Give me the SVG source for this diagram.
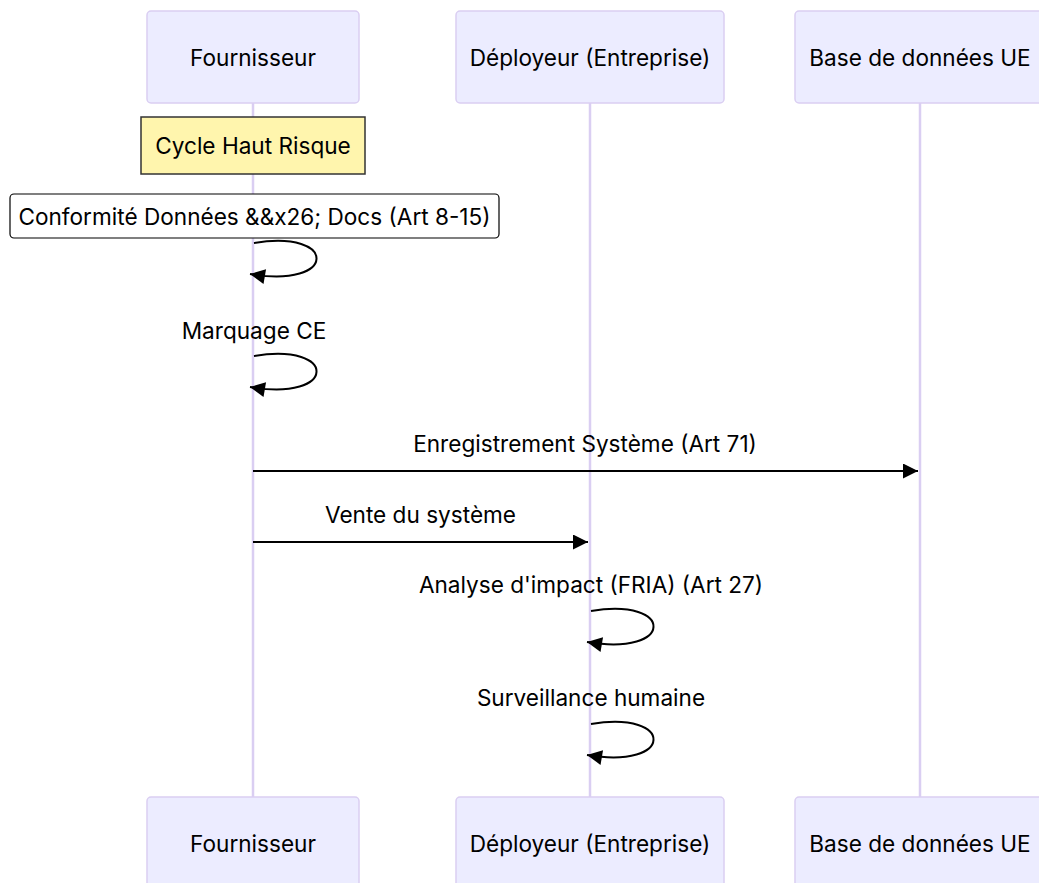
<svg xmlns="http://www.w3.org/2000/svg" width="1039" height="883" viewBox="0 0 1039 883">
<style>
text{font-family:Inter,"Noto Sans","Liberation Sans",sans-serif;font-size:22.6px;fill:#000;text-anchor:middle;dominant-baseline:central}
.actor{fill:#ececff;stroke:#dacef2;stroke-width:1.5}
.life{stroke:#dacef2;stroke-width:2.5}
.msg{fill:none;stroke:#000;stroke-width:2}
</style>
<defs>
<marker id="arrow" viewBox="0 0 10 10" refX="10" refY="5" markerUnits="userSpaceOnUse" markerWidth="18" markerHeight="15" orient="auto">
<path d="M0,0 L10,5 L0,10 z" fill="#000"/>
</marker>
</defs>
<rect width="1039" height="883" fill="#fff"/>
<g id="lifelines">
<line class="life" x1="253" y1="103" x2="253" y2="797"/>
<line class="life" x1="590" y1="103" x2="590" y2="797"/>
<line class="life" x1="920" y1="103" x2="920" y2="797"/>
</g>
<g id="actor-fournisseur-top"><rect class="actor" x="147" y="11" width="212" height="92" rx="4"/><text x="253" y="57">Fournisseur</text></g>
<g id="actor-deployeur-top"><rect class="actor" x="456" y="11" width="268" height="92" rx="4"/><text x="590" y="57">Déployeur (Entreprise)</text></g>
<g id="actor-base-top"><rect class="actor" x="795" y="11" width="250" height="92" rx="4"/><text x="920" y="57">Base de données UE</text></g>
<g id="actor-fournisseur-bottom"><rect class="actor" x="147" y="797" width="212" height="92" rx="4"/><text x="253" y="843">Fournisseur</text></g>
<g id="actor-deployeur-bottom"><rect class="actor" x="456" y="797" width="268" height="92" rx="4"/><text x="590" y="843">Déployeur (Entreprise)</text></g>
<g id="actor-base-bottom"><rect class="actor" x="795" y="797" width="250" height="92" rx="4"/><text x="920" y="843">Base de données UE</text></g>
<g id="note-cycle"><rect x="141" y="117" width="224" height="57" fill="#fff5ad" stroke="#333" stroke-width="1.5"/><text x="253" y="145.5">Cycle Haut Risque</text></g>
<g id="label-conformite"><rect x="10" y="194" width="489" height="44" rx="4" fill="#fff" stroke="#000" stroke-width="1.2"/><text x="254.5" y="216.5">Conformité Données &amp;&amp;x26; Docs (Art 8-15)</text></g>
<g id="connectors">
<path class="msg" d="M254,243 C338,229 338,289 250,274" marker-end="url(#arrow)"/>
<text x="254" y="330">Marquage CE</text>
<path class="msg" d="M254,356 C338,342 338,402 250,387" marker-end="url(#arrow)"/>
<text x="585" y="443">Enregistrement Système (Art 71)</text>
<line class="msg" x1="253" y1="471" x2="918" y2="471" marker-end="url(#arrow)"/>
<text x="420.5" y="514">Vente du système</text>
<line class="msg" x1="253" y1="542" x2="588" y2="542" marker-end="url(#arrow)"/>
<text x="591" y="584">Analyse d'impact (FRIA) (Art 27)</text>
<path class="msg" d="M591,611 C675,597 675,657 587,642" marker-end="url(#arrow)"/>
<text x="591" y="697">Surveillance humaine</text>
<path class="msg" d="M591,724 C675,710 675,770 587,755" marker-end="url(#arrow)"/>
</g>
</svg>
